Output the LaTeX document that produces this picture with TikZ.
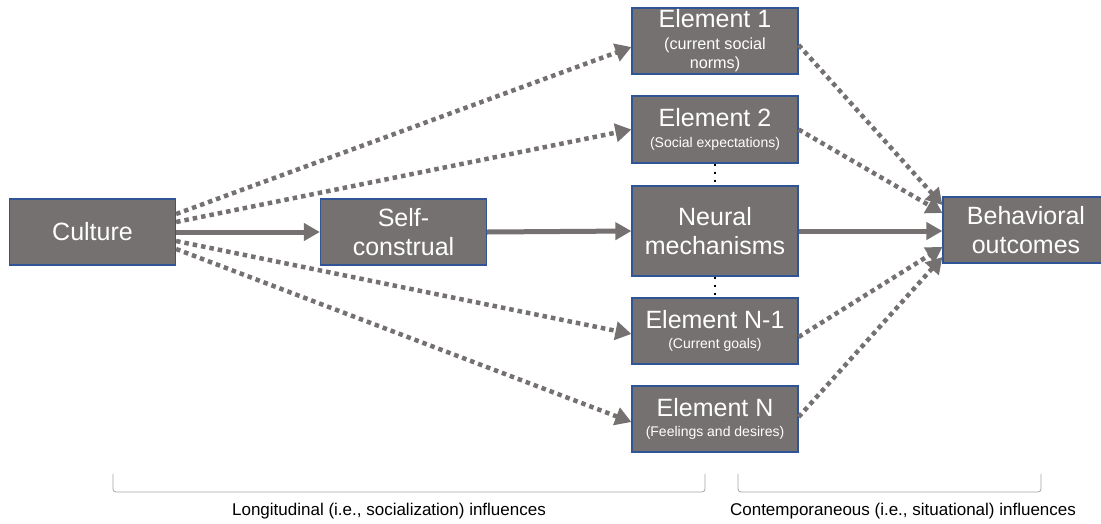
\documentclass[tikz,border=0pt]{standalone}
\usepackage{fontspec}
\setmainfont{Liberation Sans}
\usetikzlibrary{arrows.meta}
\definecolor{boxgray}{HTML}{767171}
\definecolor{boxedge}{HTML}{2F5597}
\definecolor{brk}{HTML}{A6A6A6}
\newcommand{\subfont}{\fontsize{14}{17}\selectfont}
\newcommand{\subfontbig}{\fontsize{16.2}{19}\selectfont}
\begin{document}
\begin{tikzpicture}[x=1pt,y=-1pt,
  box/.style={draw=boxedge, line width=1.2pt, fill=boxgray, text=white,
    minimum width=166pt, inner sep=1pt, align=center,
    font=\fontsize{25}{29}\selectfont},
  solidarrow/.style={draw=boxgray, line width=5pt,
    -{Triangle[length=16pt,width=17pt]}},
  dotarrow/.style={draw=boxgray, line width=4.5pt, dash pattern=on 4.5pt off 4pt,
    -{Triangle[length=16pt,width=18pt]}},
  vdots/.style={draw=black, line width=2pt, dash pattern=on 2pt off 6pt},
  bracket/.style={draw=brk, line width=0.8pt, rounded corners=3pt},
  caption/.style={font=\fontsize{17}{20}\selectfont, text=black, inner sep=0pt}
]
\fill[white] (0,0) rectangle (1101,523);
\clip (0,0) rectangle (1101,523);

\node[box, minimum height=66pt] (culture) at (92.5,232) {Culture};
\node[box, minimum height=66pt] (self) at (403.5,232) {Self-\\construal};
\node[box, minimum height=66pt] (e1) at (715,41)
  {Element 1\\[-7pt]\subfontbig (current social\\[-10pt]\subfontbig norms)};
\node[box, minimum height=67pt] (e2) at (715,129.5)
  {Element 2\\[-8pt]\subfont (Social expectations)};
\node[box, minimum height=90pt] (neural) at (715,231) {Neural\\mechanisms};
\node[box, minimum height=66pt] (en1) at (715,331)
  {Element N-1\\[-9pt]\subfont (Current goals)};
\node[box, minimum height=66pt] (en) at (715,419)
  {Element N\\[-9pt]\subfont (Feelings and desires)};
\node[box, minimum height=66pt] (beh) at (1026,230) {Behavioral\\outcomes};

% solid arrows
\draw[solidarrow] (culture.east) -- (self.west);
\draw[solidarrow] (self.east) -- (neural.west);
\draw[solidarrow] (neural.east) -- (neural.east -| beh.west);

% dotted arrows from culture
\draw[dotarrow] ([yshift=18pt]culture.east) -- ([yshift=-6pt]e1.west);
\draw[dotarrow] ([yshift=10pt]culture.east) -- (e2.west);
\draw[dotarrow] ([yshift=-9pt]culture.east) -- ([yshift=-3pt]en1.west);
\draw[dotarrow] ([yshift=-17pt]culture.east) -- ([yshift=-3pt]en.west);

% dotted arrows to behavioral outcomes
\draw[dotarrow] ([yshift=-4pt]e1.east) -- ([yshift=25pt]beh.west);
\draw[dotarrow] (e2.east) -- ([yshift=17pt]beh.west);
\draw[dotarrow] ([yshift=-6pt]en1.east) -- ([yshift=-17pt]beh.west);
\draw[dotarrow] ([yshift=2pt]en.east) -- ([yshift=-27pt]beh.west);

% vertical ellipsis dots
\draw[vdots] (e2.south) -- (neural.north);
\draw[vdots] (neural.south) -- (en1.north);

% brackets
\coordinate (l1) at (113,474);
\coordinate (l2) at (113,492);
\coordinate (l3) at (705,492);
\coordinate (l4) at (705,474);
\draw[bracket] (l1) -- (l2) -- (l3) -- (l4);
\coordinate (r1) at (738,474);
\coordinate (r2) at (738,492);
\coordinate (r3) at (1041,492);
\coordinate (r4) at (1041,474);
\draw[bracket] (r1) -- (r2) -- (r3) -- (r4);

\node[caption] (lab1) at (389,511) {Longitudinal (i.e., socialization) influences};
\node[caption] (lab2) at (903,511) {Contemporaneous (i.e., situational) influences};
\end{tikzpicture}
\end{document}
